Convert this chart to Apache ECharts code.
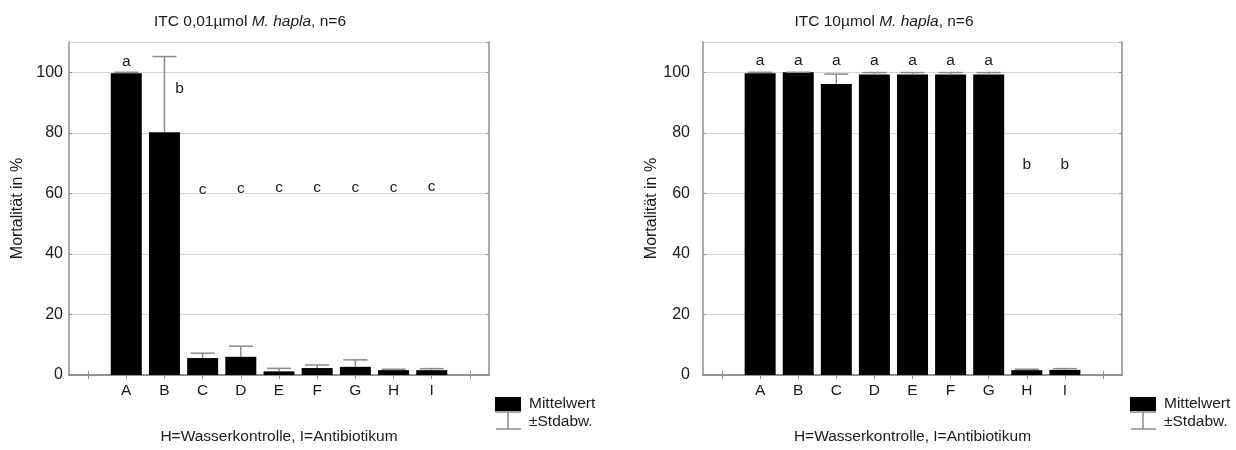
<!DOCTYPE html>
<html>
<head>
<meta charset="utf-8">
<script src="https://cdn.jsdelivr.net/npm/echarts@6/dist/echarts.min.js"></script>
<style>
html,body{margin:0;padding:0;background:#fff;}
#chart{width:1236px;height:450px;}
</style>
</head>
<body>
<div id="chart"></div>
<script>
// ---- data ----
const categories = ['A', 'B', 'C', 'D', 'E', 'F', 'G', 'H', 'I'];
const leftTitleMain = 'ITC 0,01µmol ';
const rightTitleMain = 'ITC 10µmol ';
const titleSpecies = 'M. hapla';
const titleTail = ', n=6';
const yAxisName = 'Mortalität in %';
const xAxisName = 'H=Wasserkontrolle, I=Antibiotikum';
const legendMean = 'Mittelwert';
const legendSD = '±Stdabw.';

const leftMeans = [99.7, 80.2, 5.6, 6.0, 1.2, 2.3, 2.7, 1.6, 1.6];
const leftSD    = [0.3, 25.0, 1.6, 3.5, 1.0, 1.0, 2.3, 0.3, 0.5];
const leftLetters = ['a', 'b', 'c', 'c', 'c', 'c', 'c', 'c', 'c'];
const leftLetterY = [103.4, 94.7, 61.2, 61.6, 61.7, 61.7, 61.8, 61.8, 62.3];

const rightMeans = [99.7, 100, 96.1, 99.3, 99.3, 99.3, 99.3, 1.6, 1.7];
const rightSD    = [0.3, 0.0, 3.3, 0.6, 0.6, 0.6, 0.6, 0.3, 0.4];
const rightLetters = ['a', 'a', 'a', 'a', 'a', 'a', 'a', 'b', 'b'];
const rightLetterY = [103.7, 103.7, 103.7, 103.7, 103.7, 103.7, 103.7, 69.3, 69.3];

const yMin = 0, yMax = 110, yInterval = 20;

// ---- styling ----
const FONT = '"Liberation Sans", Arial, sans-serif';
const FS = 15.5;
const FS_Y = 16;
const TXT = '#1a1a1a';
const AXIS = '#8c8c8c';
const ERR = '#8a8a8a';
const GRIDLINE = '#d6d6d6';

const axisCats = [''].concat(categories, ['']);

function barData(vals) { return [null].concat(vals, [null]); }
function errData(means, sds) { return means.map((m, i) => [i + 1, m, m + sds[i]]); }
function letterData(ys) { return ys.map((y, i) => [i + 1, y]); }

const LETTER_NUDGE = { left: { 1: 15 } };

function errRender(params, api) {
  const x = api.value(0);
  const p0 = api.coord([x, api.value(1)]);
  const p1 = api.coord([x, api.value(2)]);
  const half = 12;
  const st = { stroke: ERR, lineWidth: 1.5 };
  return {
    type: 'group',
    children: [
      { type: 'line', shape: { x1: p0[0], y1: p0[1], x2: p1[0], y2: p1[1] }, style: st },
      { type: 'line', shape: { x1: p1[0] - half, y1: p1[1], x2: p1[0] + half, y2: p1[1] }, style: st }
    ]
  };
}

function makeLetterRender(letters, side) {
  return function (params, api) {
    const p = api.coord([api.value(0), api.value(1)]);
    const nudge = (LETTER_NUDGE[side] && LETTER_NUDGE[side][params.dataIndex]) || 0;
    return {
      type: 'text',
      x: p[0] + nudge, y: p[1],
      style: {
        text: letters[params.dataIndex], fill: TXT,
        font: FS + 'px ' + FONT, align: 'center', verticalAlign: 'middle'
      }
    };
  };
}

function xAxes(gridIndex) {
  return [
    {
      type: 'category', gridIndex, data: axisCats, position: 'bottom',
      axisLine: { show: true, lineStyle: { color: AXIS, width: 1.5 } },
      axisTick: { show: true, inside: true, length: 4, alignWithLabel: true, interval: 0, lineStyle: { color: AXIS } },
      axisLabel: { interval: 0, margin: 8, color: TXT, fontSize: FS, fontFamily: FONT },
      splitLine: { show: false },
      name: xAxisName, nameLocation: 'middle', nameGap: 54,
      nameTextStyle: { color: TXT, fontSize: FS, fontFamily: FONT }
    },
    {
      type: 'category', gridIndex, data: axisCats, position: 'top',
      axisLine: { show: true, lineStyle: { color: AXIS, width: 1.5 } },
      axisTick: { show: true, inside: true, length: 4, alignWithLabel: true, interval: 0, lineStyle: { color: AXIS } },
      axisLabel: { show: false }, splitLine: { show: false }
    }
  ];
}

function yAxes(gridIndex, labelMargin, nameGap) {
  return [
    {
      type: 'value', gridIndex, min: yMin, max: yMax, interval: yInterval, position: 'left',
      axisLine: { show: true, lineStyle: { color: AXIS, width: 1.5 } },
      axisTick: { show: true, inside: true, length: 3, lineStyle: { color: AXIS } },
      axisLabel: { showMaxLabel: false, margin: labelMargin, color: TXT, fontSize: FS_Y, fontFamily: FONT },
      splitLine: { show: true, lineStyle: { color: GRIDLINE, width: 1 } },
      name: yAxisName, nameLocation: 'middle', nameGap: nameGap, nameRotate: 90,
      nameTextStyle: { color: TXT, fontSize: FS_Y, fontFamily: FONT }
    },
    {
      type: 'value', gridIndex, min: yMin, max: yMax, interval: yInterval, position: 'right',
      axisLine: { show: true, lineStyle: { color: AXIS, width: 1.5 } },
      axisTick: { show: true, inside: true, length: 3, lineStyle: { color: AXIS } },
      axisLabel: { show: false }, splitLine: { show: false }
    }
  ];
}

function legend(x0) {
  const t = FS + 'px ' + FONT;
  return [
    { type: 'rect', shape: { x: x0, y: 397, width: 26, height: 14 }, style: { fill: '#000' } },
    { type: 'line', shape: { x1: x0, y1: 412, x2: x0 + 26, y2: 412 }, style: { stroke: ERR, lineWidth: 1.5 } },
    { type: 'line', shape: { x1: x0 + 13, y1: 412, x2: x0 + 13, y2: 429 }, style: { stroke: ERR, lineWidth: 1.5 } },
    { type: 'line', shape: { x1: x0 + 1, y1: 429, x2: x0 + 26, y2: 429 }, style: { stroke: ERR, lineWidth: 1.5 } },
    { type: 'text', x: x0 + 34, y: 404, style: { text: legendMean, font: t, fill: TXT, verticalAlign: 'middle' } },
    { type: 'text', x: x0 + 34, y: 422, style: { text: legendSD, font: t, fill: TXT, verticalAlign: 'middle' } }
  ];
}

function titleText(x, main) {
  return {
    type: 'text', x: x, y: 22,
    style: {
      text: main + '{i|' + titleSpecies + '}' + titleTail,
      font: FS + 'px ' + FONT, fill: TXT, align: 'center', verticalAlign: 'middle',
      rich: { i: { fontStyle: 'italic', fontSize: FS, fontFamily: FONT, fill: TXT } }
    }
  };
}

const chart = echarts.init(document.getElementById('chart'), null, { renderer: 'canvas' });
chart.setOption({
  backgroundColor: '#fff',
  animation: false,
  grid: [
    { left: 69, top: 42, width: 420, height: 339 },
    { left: 703, top: 42, width: 419, height: 339 }
  ],
  xAxis: xAxes(0).concat(xAxes(1)),
  yAxis: yAxes(0, 6, 43).concat(yAxes(1, 13, 42)),
  series: [
    { type: 'bar', xAxisIndex: 0, yAxisIndex: 0, data: barData(leftMeans), barWidth: 31,
      itemStyle: { color: '#000' }, z: 2 },
    { type: 'custom', xAxisIndex: 0, yAxisIndex: 0, data: errData(leftMeans, leftSD), renderItem: errRender, z: 3 },
    { type: 'custom', xAxisIndex: 0, yAxisIndex: 0, data: letterData(leftLetterY), renderItem: makeLetterRender(leftLetters, 'left'), z: 4 },
    { type: 'bar', xAxisIndex: 2, yAxisIndex: 2, data: barData(rightMeans), barWidth: 31,
      itemStyle: { color: '#000' }, z: 2 },
    { type: 'custom', xAxisIndex: 2, yAxisIndex: 2, data: errData(rightMeans, rightSD), renderItem: errRender, z: 3 },
    { type: 'custom', xAxisIndex: 2, yAxisIndex: 2, data: letterData(rightLetterY), renderItem: makeLetterRender(rightLetters, 'right'), z: 4 }
  ],
  graphic: [titleText(250, leftTitleMain), titleText(884, rightTitleMain)]
    .concat(legend(495), legend(1130))
});
</script>
</body>
</html>
